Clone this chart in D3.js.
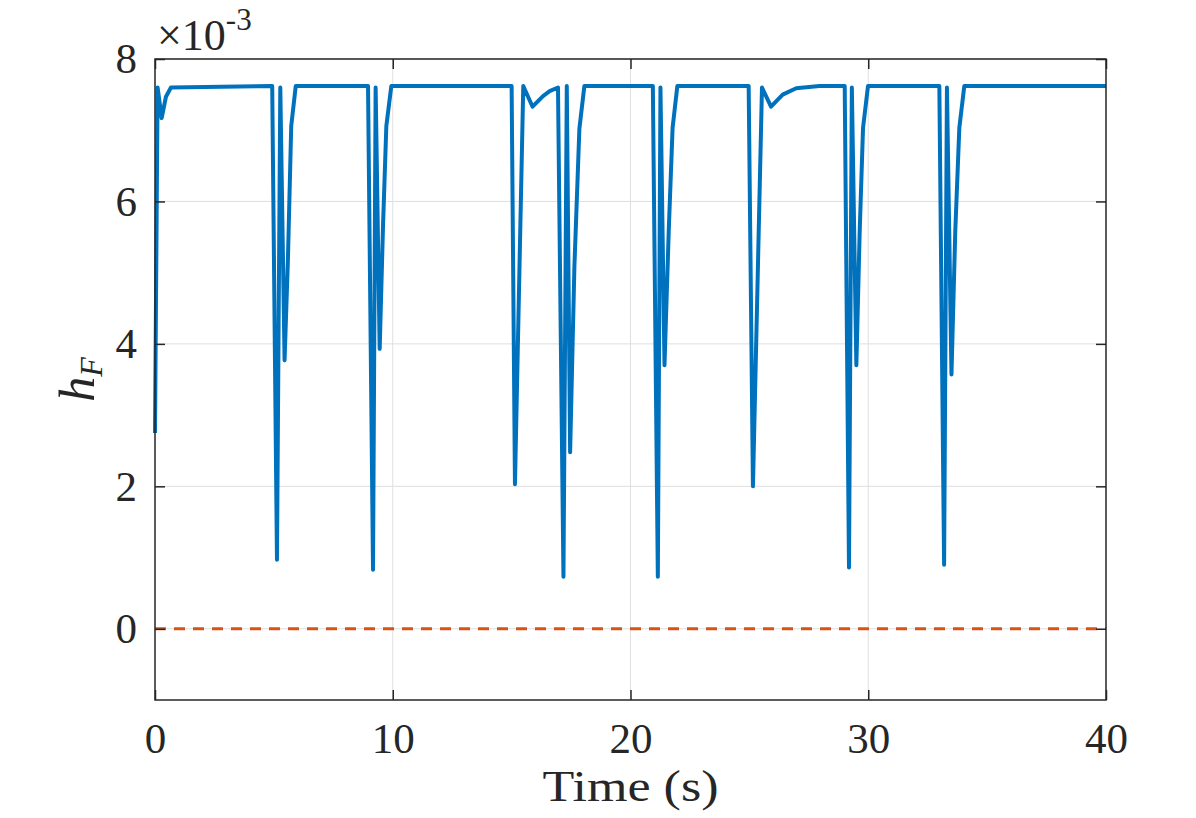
<!DOCTYPE html>
<html>
<head>
<meta charset="utf-8">
<script src="https://cdn.jsdelivr.net/npm/d3@7"></script>
<style>
  body { margin: 0; background: #fff; }
  svg text { font-family: 'Liberation Serif', serif; fill: #262626; }
</style>
</head>
<body>
<svg id="chart"></svg>
<script>
// time samples (s) and h_F values (x 1e-3)
var timeData = [0, 0.11, 0.28, 0.46, 0.67,
  4.93, 5.13, 5.27, 5.45, 5.59, 5.73, 5.92,
  8.96, 9.17, 9.28, 9.45, 9.59, 9.73, 9.94,
  15.0, 15.14, 15.49, 15.88, 16.32, 16.6, 16.95,
  17.18, 17.32, 17.46, 17.64, 17.85, 18.06,
  20.94, 21.15, 21.26, 21.43, 21.61, 21.77, 21.97,
  24.97, 25.15, 25.53, 25.91, 26.4, 26.97, 27.95,
  29.01, 29.19, 29.31, 29.50, 29.64, 29.78, 29.99,
  32.99, 33.19, 33.31, 33.50, 33.66, 33.83, 34.04,
  40];
var hfData = [2.75, 7.6, 7.17, 7.47, 7.6,
  7.62, 0.97, 7.6, 3.77, 5.18, 7.06, 7.62,
  7.62, 0.83, 7.6, 3.93, 5.65, 7.06, 7.62,
  7.62, 2.03, 7.62, 7.33, 7.48, 7.55, 7.6,
  0.73, 7.62, 2.48, 5.08, 7.02, 7.62,
  7.62, 0.73, 7.6, 3.70, 5.6, 7.03, 7.62,
  7.62, 2.0, 7.6, 7.33, 7.5, 7.59, 7.62,
  7.62, 0.86, 7.6, 3.70, 5.58, 7.03, 7.62,
  7.62, 0.90, 7.6, 3.57, 5.58, 7.03, 7.62,
  7.62];
var limitData = [0, 0];
var limitTime = [0, 40];

var xTicks = [0, 10, 20, 30, 40];
var yTicks = [0, 2, 4, 6, 8];

var width = 1196, height = 818;
var plotLeft = 155, plotRight = 1106, plotTop = 59, plotBottom = 700;
var serif = 'Liberation Serif';

var svg = d3.select('#chart')
    .attr('width', width)
    .attr('height', height);

var x = d3.scaleLinear().domain([0, 40]).range([plotLeft, plotRight]);
var y = d3.scaleLinear().domain([-1, 8]).range([plotBottom, plotTop]);

// grid
svg.append('g').selectAll('line')
    .data(xTicks.slice(1, -1))
    .enter().append('line')
    .attr('x1', function(d) { return x(d); })
    .attr('x2', function(d) { return x(d); })
    .attr('y1', plotTop).attr('y2', plotBottom)
    .attr('stroke', '#dfdfdf').attr('stroke-width', 1);

svg.append('g').selectAll('line')
    .data(yTicks)
    .enter().append('line')
    .attr('x1', plotLeft).attr('x2', plotRight)
    .attr('y1', function(d) { return y(d); })
    .attr('y2', function(d) { return y(d); })
    .attr('stroke', '#dfdfdf').attr('stroke-width', 1);

var line = d3.line()
    .x(function(d) { return x(d[0]); })
    .y(function(d) { return y(d[1]); });

// zero line (dashed)
svg.append('path')
    .datum(d3.zip(limitTime, limitData))
    .attr('d', line)
    .attr('fill', 'none')
    .attr('stroke', '#D95319')
    .attr('stroke-width', 3)
    .attr('stroke-dasharray', '11,8');

// h_F series
svg.append('path')
    .datum(d3.zip(timeData, hfData))
    .attr('d', line)
    .attr('fill', 'none')
    .attr('stroke', '#0072BD')
    .attr('stroke-width', 4)
    .attr('stroke-linejoin', 'round');

// axes (ticks inward, box on)
var tickLen = 10;
var xAxisB = d3.axisBottom(x).tickValues(xTicks).tickSizeInner(-tickLen).tickSizeOuter(0).tickPadding(22);
var xAxisT = d3.axisTop(x).tickValues(xTicks).tickSizeInner(-tickLen).tickSizeOuter(0).tickFormat('');
var yAxisL = d3.axisLeft(y).tickValues(yTicks).tickSizeInner(-tickLen).tickSizeOuter(0).tickPadding(18);
var yAxisR = d3.axisRight(y).tickValues(yTicks).tickSizeInner(-tickLen).tickSizeOuter(0).tickFormat('');

function styleAxis(g) {
  g.attr('font-family', serif).attr('font-size', 43);
  g.select('.domain').remove();
  g.selectAll('.tick line').attr('stroke', '#262626').attr('stroke-width', 1.5);
  g.selectAll('.tick text').attr('fill', '#262626');
}

svg.append('g').attr('transform', 'translate(0,' + plotBottom + ')').call(xAxisB).call(styleAxis);
svg.append('g').attr('transform', 'translate(0,' + plotTop + ')').call(xAxisT).call(styleAxis);
svg.append('g').attr('transform', 'translate(' + plotLeft + ',0)').call(yAxisL).call(styleAxis);
svg.append('g').attr('transform', 'translate(' + plotRight + ',0)').call(yAxisR).call(styleAxis);

// box
svg.append('rect')
    .attr('x', plotLeft).attr('y', plotTop)
    .attr('width', plotRight - plotLeft).attr('height', plotBottom - plotTop)
    .attr('fill', 'none')
    .attr('stroke', '#262626')
    .attr('stroke-width', 1.5);

// exponent label
var ex = svg.append('text')
    .attr('x', plotLeft + 2).attr('y', 50)
    .attr('font-family', serif)
    .attr('font-size', 44);
ex.append('tspan').text('\u00d710');
ex.append('tspan').attr('font-size', 31).attr('dy', -20).text('-3');

// x label
svg.append('text')
    .attr('x', (plotLeft + plotRight) / 2)
    .attr('y', 801)
    .attr('text-anchor', 'middle')
    .attr('font-family', serif)
    .attr('font-size', 44)
    .attr('textLength', 176)
    .attr('lengthAdjust', 'spacingAndGlyphs')
    .text('Time (s)');

// y label
var yl = svg.append('text')
    .attr('transform', 'translate(94,' + y(3.5) + ') rotate(-90)')
    .attr('text-anchor', 'middle')
    .attr('font-family', serif)
    .attr('font-size', 50)
    .attr('font-style', 'italic');
yl.append('tspan').text('h');
yl.append('tspan').attr('font-size', 32).attr('dy', 8).text('F');
</script>
</body>
</html>
